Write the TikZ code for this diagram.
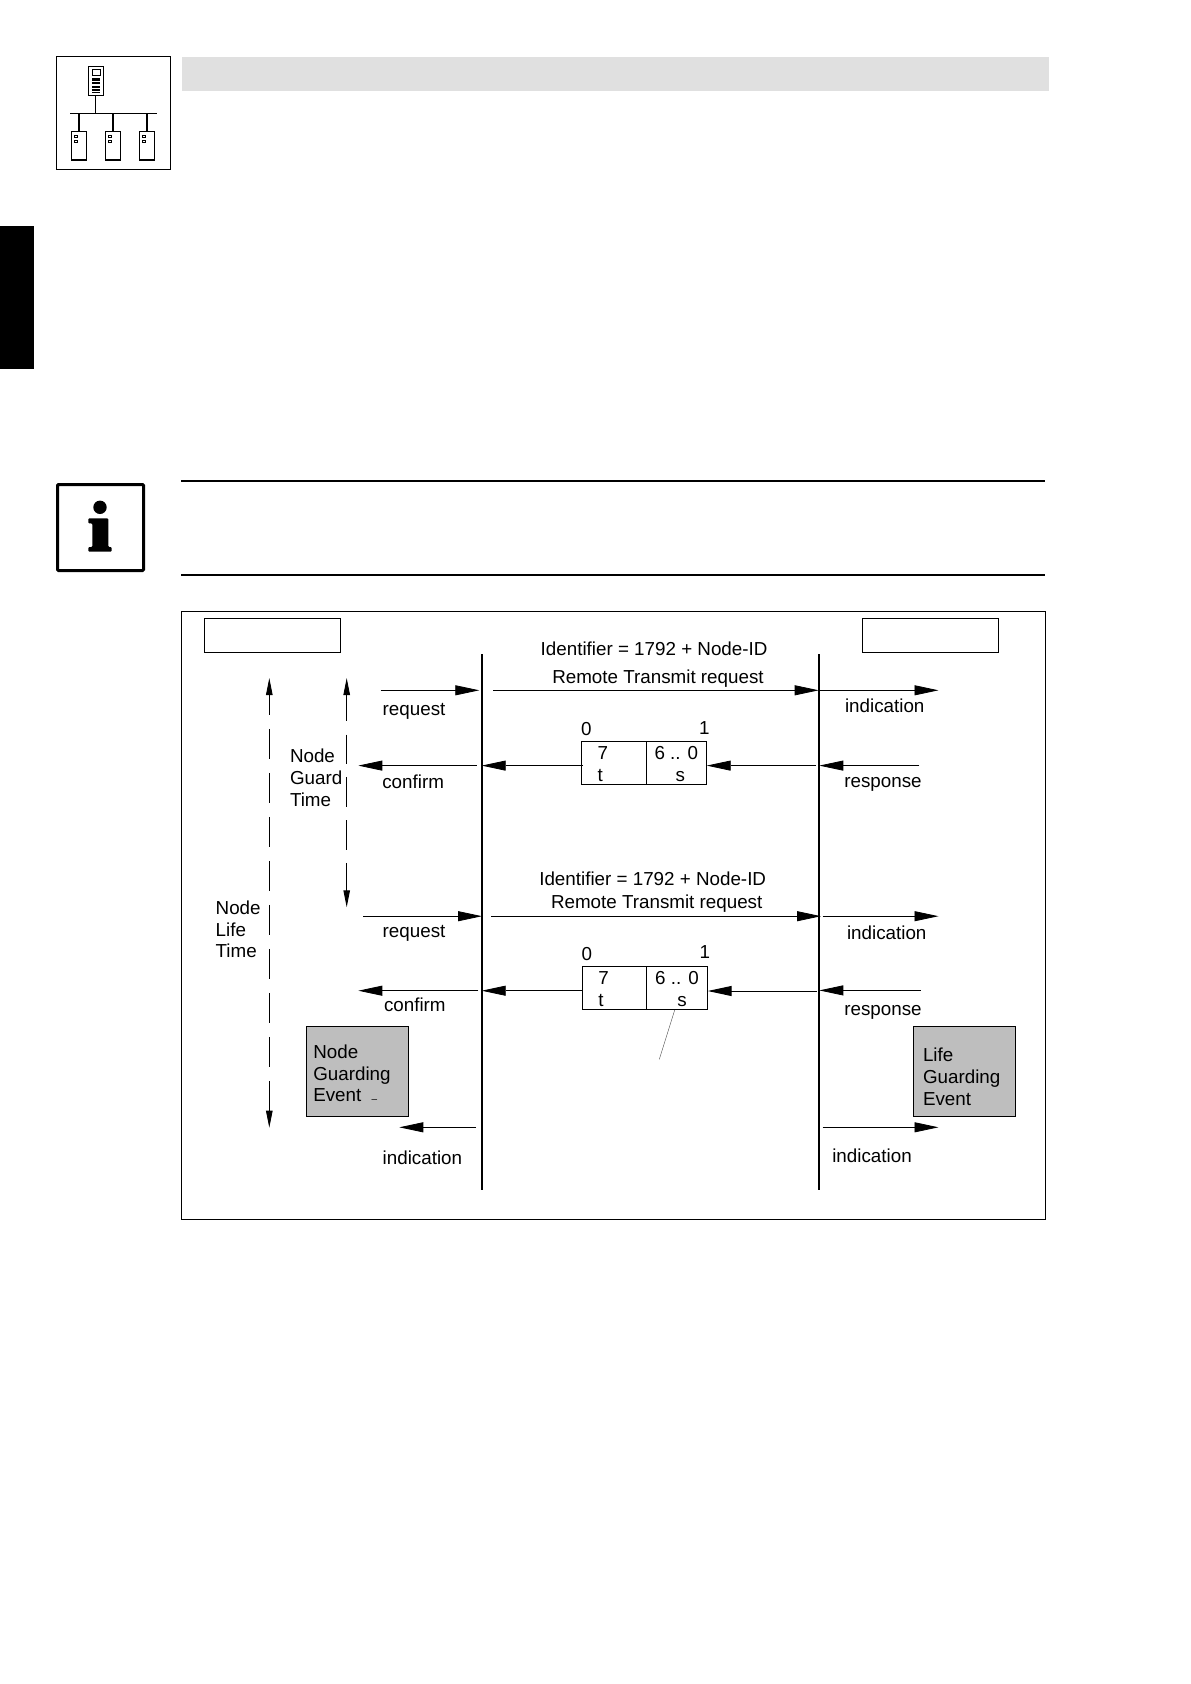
\documentclass[tikz,border=0pt]{standalone}
\usepackage{fontspec}
\setmainfont{Liberation Sans}
\usetikzlibrary{arrows.meta, positioning}
\definecolor{bandgray}{gray}{0.878}
\definecolor{eventgray}{gray}{0.745}

\begin{document}
\begin{tikzpicture}[
  x=1pt, y=-1pt,
  font=\fontsize{18.8}{21.7}\selectfont,
  lbl/.style={anchor=base west, inner sep=0pt, outer sep=0pt, align=left},
  plainbox/.style={draw, anchor=north west, inner sep=0pt, outer sep=0pt, line width=1pt},
  eventbox/.style={plainbox, fill=eventgray},
  devbox/.style={plainbox, line width=1.5pt, minimum width=15pt, minimum height=28.7pt},
  ledbox/.style={plainbox, line width=0.7pt, minimum width=3.4pt, minimum height=2.4pt},
  barfill/.style={fill=black},
  lifeline/.style={line width=2.2pt},
  arr/.style={-{Triangle[length=24pt, width=10pt]}, line width=0.8pt},
  timearr/.style={{Triangle[length=17pt, width=6.5pt]}-{Triangle[length=17pt, width=6.5pt]}, line width=0.9pt}
]
\useasboundingbox (0,0) rectangle (1191,1684);

% page furniture
\fill[bandgray] (182,57) rectangle (1049,90.7);
\fill[black] (0,226) rectangle (34,369);
\draw[line width=1pt] (56.3,56.3) rectangle (170.7,169.3);
\draw[line width=1.6pt] (181,480.7) -- (1045,480.7);
\draw[line width=1.6pt] (181,574.7) -- (1045,574.7);

% bus icon
\node[devbox] (panel) at (88.3,66.7) {};
\node[plainbox, line width=0.7pt, minimum width=8.4pt, minimum height=6pt] (screen) at (92.3,69.3) {};
\fill[barfill] (92.3,78) rectangle (100.3,80.7);
\fill[barfill] (92.3,82) rectangle (100.3,84.3);
\fill[barfill] (92.3,85.7) rectangle (100.3,88);
\fill[barfill] (92.3,89.3) rectangle (100.3,91);
\fill[barfill] (92.3,92.3) rectangle (100.3,93);
\coordinate (busl) at (70,113.3);
\coordinate (busr) at (156.7,113.3);
\draw[line width=1pt] (busl) -- (busr);
\draw[line width=1pt] (panel.south) -- (panel.south |- busl);
\node[devbox] (drva) at (71.3,131.3) {};
\node[devbox] (drvb) at (105.3,131.3) {};
\node[devbox] (drvc) at (139.3,131.3) {};
\draw[line width=1.5pt] (drva.north) -- (drva.north |- busl);
\draw[line width=1.5pt] (drvb.north) -- (drvb.north |- busl);
\draw[line width=1.5pt] (drvc.north) -- (drvc.north |- busl);
\node[ledbox] (leda) at (74.3,135.3) {};
\node[ledbox] (ledb) at (74.3,140.3) {};
\node[ledbox] (ledc) at (108.3,135.3) {};
\node[ledbox] (ledd) at (108.3,140.3) {};
\node[ledbox] (lede) at (142.3,135.3) {};
\node[ledbox] (ledf) at (142.3,140.3) {};

% info icon
\draw[line width=3pt, rounded corners=1pt] (57.5,484.5) rectangle (143.5,570.5);
\fill[black] (100,507.3) circle (6.7);
\fill[black, rounded corners=1pt] (88.3,518.3) -- (108.3,518.3) -- (108.3,547) -- (111.7,547)
  -- (111.7,551.7) -- (88.3,551.7) -- (88.3,547) -- (92.3,547) -- (92.3,523.3) -- (88.3,523.3) -- cycle;

% frame and stations
\draw[line width=1pt] (181.3,611.3) rectangle (1045.7,1219.3);
\node[plainbox, minimum width=136.4pt, minimum height=34.4pt] (master) at (204.3,618.3) {};
\node[plainbox, minimum width=136.4pt, minimum height=34.4pt] (slave) at (862.3,618.3) {};

\coordinate (lltop) at (482,654);
\coordinate (llbot) at (482,1190);
\coordinate (rltop) at (819,654);
\coordinate (rlbot) at (819,1190);
\draw[lifeline] (lltop) -- (llbot);
\draw[lifeline] (rltop) -- (rlbot);

% time spans
\coordinate (lifetop) at (269.3,678);
\coordinate (lifebot) at (269.3,1127.7);
\coordinate (guardtop) at (346.7,678);
\coordinate (guardbot) at (346.7,907.3);
\draw[timearr, dash pattern=on 30pt off 14pt, dash phase=10pt] (lifetop) -- (lifebot);
\draw[timearr, dash pattern=on 29.5pt off 13.2pt, dash phase=2.8pt] (guardtop) -- (guardbot);

% first exchange
\node[plainbox, minimum width=65pt, minimum height=42.3pt] (bita) at (581.7,741.7) {};
\node[plainbox, minimum width=60pt, minimum height=42.3pt] (bitsa) at (646.7,741.7) {};
\coordinate (reqa) at (380.7,690.3);
\coordinate (reqb) at (479.3,690.3);
\coordinate (rtra) at (493.3,690.3);
\coordinate (rtrb) at (818.7,690.3);
\coordinate (inda) at (820,690.3);
\coordinate (indb) at (938.5,690.3);
\coordinate (rspa) at (919.3,765.6);
\coordinate (rspb) at (819.3,765.6);
\coordinate (rspc) at (816,765.6);
\coordinate (cnfa) at (583,765.6);
\coordinate (cnfb) at (481.7,765.6);
\coordinate (cnfc) at (476.7,765.6);
\coordinate (cnfd) at (358.3,765.6);
\draw[arr] (reqa) -- (reqb);
\draw[arr] (rtra) -- (rtrb);
\draw[arr] (inda) -- (indb);
\draw[arr] (rspa) -- (rspb);
\draw[arr] (rspc) -- (bitsa.east |- rspc);
\draw[arr] (cnfa) -- (cnfb);
\draw[arr] (cnfc) -- (cnfd);

% second exchange
\node[plainbox, minimum width=64.4pt, minimum height=42.6pt] (bitb) at (582.3,966.7) {};
\node[plainbox, minimum width=61pt, minimum height=42.6pt] (bitsb) at (646.7,966.7) {};
\coordinate (reqc) at (363.3,916.2);
\coordinate (reqd) at (482,916.2);
\coordinate (rtrc) at (491,916.2);
\coordinate (rtrd) at (821,916.2);
\coordinate (indc) at (822.7,916.2);
\coordinate (indd) at (938.5,916.2);
\coordinate (rspd) at (920.7,990.4);
\coordinate (rspe) at (819.3,990.4);
\coordinate (rspf) at (816.7,991);
\coordinate (cnfe) at (582.3,990.7);
\coordinate (cnff) at (481.7,990.7);
\coordinate (cnfg) at (478.3,990.7);
\coordinate (cnfh) at (358.3,990.7);
\draw[arr] (reqc) -- (reqd);
\draw[arr] (rtrc) -- (rtrd);
\draw[arr] (indc) -- (indd);
\draw[arr] (rspd) -- (rspe);
\draw[arr, line width=1pt] (rspf) -- (bitsb.east |- rspf);
\draw[arr] (cnfe) -- (cnff);
\draw[arr] (cnfg) -- (cnfh);

\coordinate (leadfree) at (659.3,1059.3);
\draw[line width=0.4pt, black!70] (674.7,1010) -- (leadfree);

% events
\node[eventbox, minimum width=102.4pt, minimum height=90pt] (nodeevt) at (306.3,1026.3) {};
\node[eventbox, minimum width=102.4pt, minimum height=90pt] (lifeevt) at (913.3,1026) {};
\coordinate (nevta) at (476,1127.3);
\coordinate (nevtb) at (399.3,1127.3);
\coordinate (levta) at (822.7,1127.3);
\coordinate (levtb) at (938.5,1127.3);
\draw[arr] (nevta) -- (nevtb);
\draw[arr] (levta) -- (levtb);

% labels
\node[lbl] (ida) at (540.7,655) {Identifier = 1792 + Node-ID};
\node[lbl] (rema) at (552.3,683.3) {Remote Transmit request};
\node[lbl] (lreqa) at (382.7,715) {request};
\node[lbl] (lindb) at (845,712.5) {indication};
\node[lbl] (zeroa) at (581,735) {0};
\node[lbl] (onea) at (699,734.5) {1};
\node[lbl] (sevena) at (597.7,759.3) {7};
\node[lbl] (ta) at (597.7,781.7) {t};
\node[lbl] (rangea) at (654.5,759.3) {6 .. 0};
\node[lbl] (sa) at (675.7,781.7) {s};
\node[lbl] (lcnfa) at (382.3,788.3) {confirm};
\node[lbl] (lrspa) at (844.3,787.5) {response};
\node[lbl] (guard) at (290,806) {Node\\Guard\\Time};

\node[lbl] (idb) at (539.3,885) {Identifier = 1792 + Node-ID};
\node[lbl] (remb) at (551,908.3) {Remote Transmit request};
\node[lbl] (lreqb) at (382.7,937) {request};
\node[lbl] (lindc) at (847,939.4) {indication};
\node[lbl] (zerob) at (581.7,960) {0};
\node[lbl] (oneb) at (699.7,958.6) {1};
\node[lbl] (sevenb) at (598.3,984) {7};
\node[lbl] (tb) at (598.3,1006) {t};
\node[lbl] (rangeb) at (655.2,984) {6 .. 0};
\node[lbl] (sb) at (677.3,1006) {s};
\node[lbl] (lcnfb) at (384,1011.7) {confirm};
\node[lbl] (lrspb) at (844.3,1015.7) {response};
\node[lbl] (life) at (215.7,957.7) {Node\\Life\\Time};

\node[lbl] (nevtxt) at (313.3,1101.7) {Node\\Guarding\\Event};
\node[lbl, font=\fontsize{10}{12}\selectfont] (ndash) at (371.7,1102) {–};
\node[lbl] (levtxt) at (923,1105.2) {Life\\Guarding\\Event};
\node[lbl] (lindl) at (382.7,1164) {indication};
\node[lbl] (lindr) at (832.3,1162) {indication};

\end{tikzpicture}
\end{document}
